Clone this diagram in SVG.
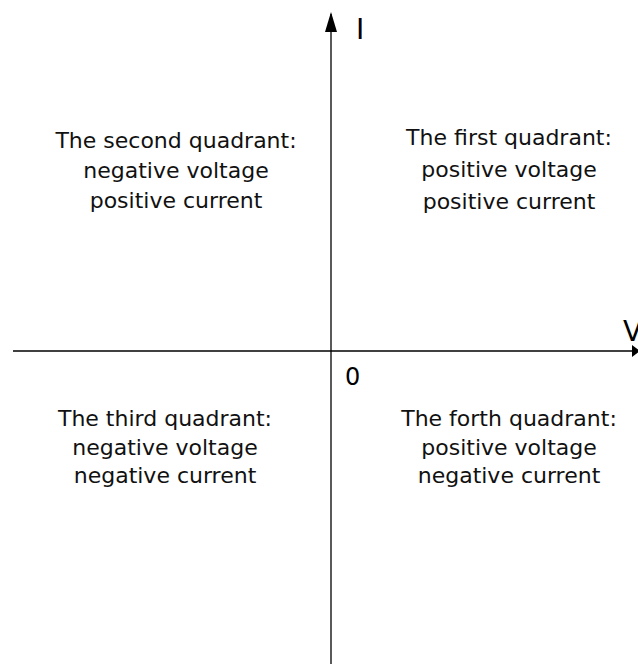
<svg xmlns="http://www.w3.org/2000/svg" width="638" height="664" viewBox="0 0 638 664">
<style>
.t{font-family:"DejaVu Sans",Verdana,sans-serif;font-size:22px;fill:#111;text-anchor:middle}
.ax{font-family:"DejaVu Sans",Verdana,sans-serif;fill:#000}
</style>
<rect width="638" height="664" fill="#fff"/>
<g id="connectors">
<line x1="331" y1="664" x2="331" y2="14" stroke="#000" stroke-width="1.3"/>
<path d="M331,12 L325,32 L337,32 Z" fill="#000"/>
<line x1="13" y1="351" x2="636" y2="351" stroke="#000" stroke-width="1.3"/>
<path d="M640,351 L632,345 L632,357 Z" fill="#000"/>
</g>
<g id="label-I"><text class="ax" x="356" y="39" font-size="28">I</text></g>
<g id="label-V"><text class="ax" x="623" y="341" font-size="28">V</text></g>
<g id="label-0"><text class="ax" x="345" y="385" font-size="24">0</text></g>
<g id="q1">
<text class="t" x="509" y="145">The first quadrant:</text>
<text class="t" x="509" y="177">positive voltage</text>
<text class="t" x="509" y="209">positive current</text>
</g>
<g id="q2">
<text class="t" x="176" y="148">The second quadrant:</text>
<text class="t" x="176" y="178">negative voltage</text>
<text class="t" x="176" y="208">positive current</text>
</g>
<g id="q3">
<text class="t" x="165" y="426">The third quadrant:</text>
<text class="t" x="165" y="455">negative voltage</text>
<text class="t" x="165" y="483">negative current</text>
</g>
<g id="q4">
<text class="t" x="509" y="426">The forth quadrant:</text>
<text class="t" x="509" y="455">positive voltage</text>
<text class="t" x="509" y="483">negative current</text>
</g>
</svg>
